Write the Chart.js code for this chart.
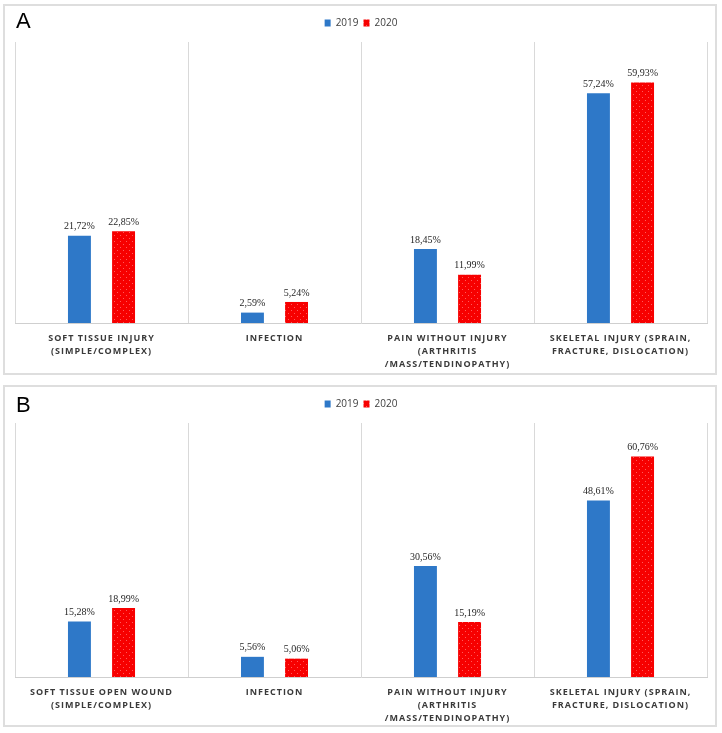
<!DOCTYPE html>
<html>
<head>
<meta charset="utf-8">
<script src="https://cdn.jsdelivr.net/npm/chart.js@4.4.1/dist/chart.umd.min.js"></script>
<style>
  html, body { margin: 0; padding: 0; background: #ffffff; }
  body { width: 722px; height: 733px; position: relative; overflow: hidden; }
  .panel { position: absolute; left: 3px; width: 714px; box-sizing: border-box; border: 2px solid #dedede; background: #fff; }
  .panel canvas { display: block; }
  .plabel { position: absolute; left: 16px; font-family: "Liberation Sans", Arial, sans-serif; font-size: 22px; line-height: 22px; color: #000; }
</style>
</head>
<body>
<div class="panel" id="panelA" style="top:4px;height:371px;"><canvas id="chartA" width="710" height="367"></canvas></div>
<div class="panel" id="panelB" style="top:385px;height:342px;"><canvas id="chartB" width="710" height="338"></canvas></div>
<div class="plabel" style="top:10px;">A</div>
<div class="plabel" style="top:394px;">B</div>
<script>
// ---- data ----
const seriesLabels = ['2019', '2020'];
const categoriesA = [
  ['SOFT TISSUE INJURY', '(SIMPLE/COMPLEX)'],
  ['INFECTION'],
  ['PAIN WITHOUT INJURY', '(ARTHRITIS', '/MASS/TENDINOPATHY)'],
  ['SKELETAL INJURY (SPRAIN,', 'FRACTURE, DISLOCATION)']
];
const categoriesB = [
  ['SOFT TISSUE OPEN WOUND', '(SIMPLE/COMPLEX)'],
  ['INFECTION'],
  ['PAIN WITHOUT INJURY', '(ARTHRITIS', '/MASS/TENDINOPATHY)'],
  ['SKELETAL INJURY (SPRAIN,', 'FRACTURE, DISLOCATION)']
];
const valuesA2019 = [21.72, 2.59, 18.45, 57.24];
const valuesA2020 = [22.85, 5.24, 11.99, 59.93];
const valuesB2019 = [15.28, 5.56, 30.56, 48.61];
const valuesB2020 = [18.99, 5.06, 15.19, 60.76];
const yMax = 70;

// ---- styles ----
const blue = '#2E78C8';
function redPattern() {
  const c = document.createElement('canvas');
  c.width = 6; c.height = 6;
  const g = c.getContext('2d');
  g.fillStyle = '#F70000';
  g.fillRect(0, 0, 6, 6);
  g.fillStyle = '#FF5A5A';
  g.fillRect(1, 1, 1, 1);
  g.fillRect(4, 4, 1, 1);
  return g.createPattern(c, 'repeat');
}
const redFill = redPattern();

const valueLabels = {
  id: 'valueLabels',
  afterDatasetsDraw(chart) {
    const ctx = chart.ctx;
    ctx.save();
    ctx.font = '10px "Liberation Serif", "Times New Roman", serif';
    ctx.fillStyle = '#262626';
    ctx.textAlign = 'center';
    ctx.textBaseline = 'bottom';
    chart.data.datasets.forEach((ds, di) => {
      chart.getDatasetMeta(di).data.forEach((bar, i) => {
        const txt = ds.data[i].toFixed(2).replace('.', ',') + '%';
        ctx.fillText(txt, bar.x, bar.y - 4);
      });
    });
    ctx.restore();
  }
};

const spacedTicks = {
  id: 'spacedTicks',
  beforeDraw(chart) {
    const s = chart.scales.x;
    if (s && !s._spaced) {
      const orig = s.drawLabels;
      s.drawLabels = function (ca) {
        const c = this.ctx;
        c.save();
        c.letterSpacing = '1px';
        orig.call(this, ca);
        c.restore();
      };
      s._spaced = true;
    }
  }
};

function makeChart(id, cats, v2019, v2020, xHeight) {
  return new Chart(document.getElementById(id), {
    type: 'bar',
    data: {
      labels: cats,
      datasets: [
        { label: seriesLabels[0], data: v2019, backgroundColor: blue, borderWidth: 0 },
        { label: seriesLabels[1], data: v2020, backgroundColor: redFill, borderWidth: 0 }
      ]
    },
    options: {
      responsive: false,
      animation: false,
      events: [],
      categoryPercentage: 0.51,
      barPercentage: 0.52,
      layout: { padding: { top: 7, left: 10, right: 8, bottom: 0 } },
      plugins: {
        legend: {
          position: 'top',
          align: 'center',
          labels: {
            boxWidth: 6, boxHeight: 7, padding: 5,
            color: '#404040',
            font: { family: '"Open Sans", sans-serif', size: 10 }
          }
        },
        subtitle: {
          display: true, text: '', weight: 500,
          padding: 0, font: { size: 4, lineHeight: 1 }
        },
        tooltip: { enabled: false }
      },
      scales: {
        x: {
          grid: { display: true, offset: true, color: '#d9d9d9', lineWidth: 1, drawTicks: false },
          border: { display: true, color: '#cfcfcf', width: 1 },
          ticks: {
            color: '#3a3a3a', padding: 9, maxRotation: 0, minRotation: 0, autoSkip: false,
            font: { family: '"Open Sans", sans-serif', size: 9, weight: 'bold', lineHeight: 1.45 }
          },
          afterFit(scale) { scale.height = xHeight; }
        },
        y: { display: false, min: 0, max: yMax }
      }
    },
    plugins: [valueLabels, spacedTicks]
  });
}

makeChart('chartA', categoriesA, valuesA2019, valuesA2020, 50);
makeChart('chartB', categoriesB, valuesB2019, valuesB2020, 48);
</script>
</body>
</html>
